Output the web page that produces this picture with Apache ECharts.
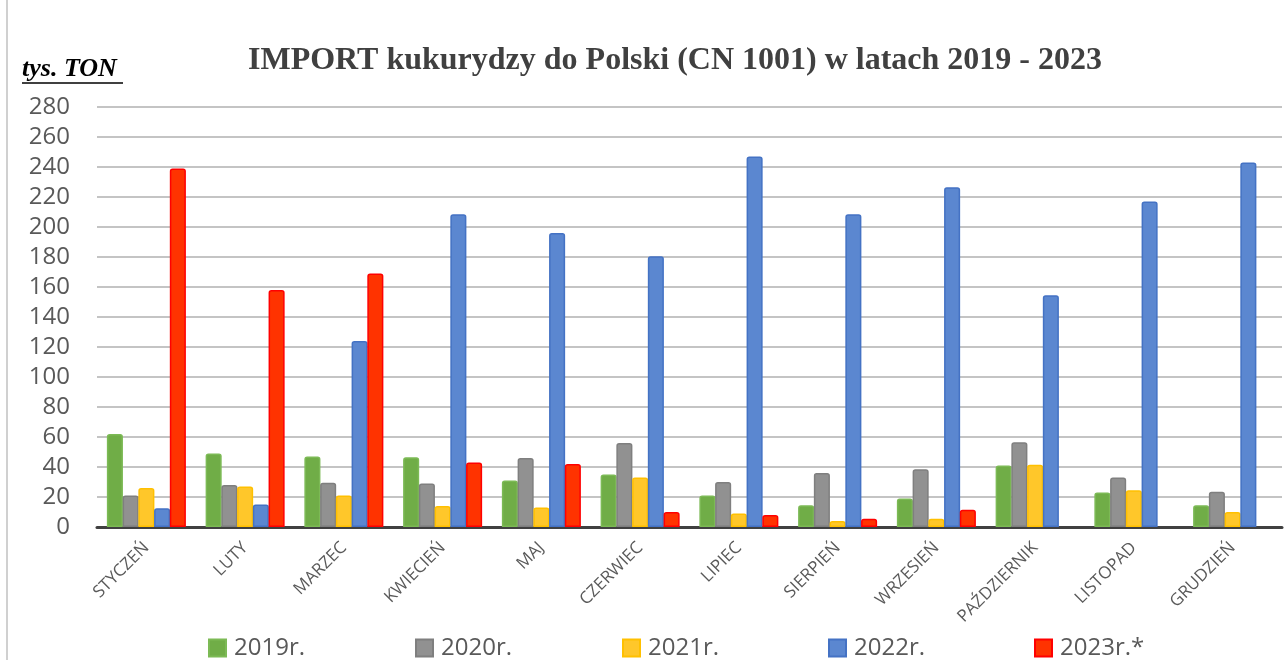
<!DOCTYPE html>
<html>
<head>
<meta charset="utf-8">
<script src="https://cdn.jsdelivr.net/npm/echarts@6/dist/echarts.min.js"></script>
<style>
html,body{margin:0;padding:0;background:#fff;}
#wrap{position:absolute;left:0;top:0;width:1285px;height:660px;}
#frame{position:absolute;left:6px;top:0;width:1279px;height:660px;border-left:2px solid #d0d0d0;box-sizing:border-box;}
#chart{position:absolute;left:0;top:0;width:1285px;height:660px;}
</style>
</head>
<body>
<div id="wrap"><div id="frame"></div><div id="chart"></div></div>
<script>
const categories = ['STYCZEŃ','LUTY','MARZEC','KWIECIEŃ','MAJ','CZERWIEC','LIPIEC','SIERPIEŃ','WRZESIEŃ','PAŹDZIERNIK','LISTOPAD','GRUDZIEŃ'];
const seriesNames = ['2019r.','2020r.','2021r.','2022r.','2023r.*'];
const v2019 = [62, 49, 47, 46.5, 31, 35, 21, 14.5, 19, 41, 23, 14.5];
const v2020 = [21, 28, 29.5, 29, 46, 56, 30, 36, 38.5, 56.5, 33, 23.5];
const v2021 = [26, 27, 21, 14, 13, 33, 9, 4, 5.5, 41.5, 24.5, 10];
const v2022 = [12.5, 15, 124, 208.5, 196, 180.5, 247, 208.5, 226.5, 154.5, 217, 243];
const v2023 = [239, 158, 169, 43, 42, 10, 8, 5.5, 11.5, null, null, null];
const yTicks = {min: 0, max: 280, interval: 20};

const fills = ['#70ad47','#919191','#ffc72a','#5b87d0','#ff3300'];
const borders = ['#7cba55','#7f7f7f','#ffc000','#4472c4','#ff0000'];
const values = [v2019, v2020, v2021, v2022, v2023];
const legendLeft = [208, 415, 622, 828, 1034];

const chart = echarts.init(document.getElementById('chart'), null, {renderer:'canvas'});
const option = {
  animation: false,
  title: {
    text: 'IMPORT kukurydzy do Polski (CN 1001) w latach 2019 - 2023',
    left: 670, top: 40, textAlign: 'center',
    textStyle: {fontFamily: '"Liberation Serif","Times New Roman",serif', fontWeight: 'bold', fontSize: 32, color: '#404040'}
  },
  graphic: [
    {type:'text', left: 22, top: 56, style:{text:'tys. TON', font:'italic bold 26px "Liberation Serif", serif', fill:'#000'}},
    {type:'line', shape:{x1:22, y1:83, x2:123, y2:83}, style:{stroke:'#000', lineWidth:1.5}}
  ],
  legend: seriesNames.map((n,i)=>({
    data:[n], left: legendLeft[i], top: 636, orient:'horizontal', padding: 0,
    itemWidth: 17, itemHeight: 17, itemGap: 4, icon: 'rect',
    selectedMode: false,
    textStyle: {fontFamily:'"Open Sans",sans-serif', fontSize: 24, color:'#595959', padding:[0,0,0,3]}
  })),
  grid: {left: 97, right: 3, top: 107, bottom: 133, containLabel: false},
  xAxis: {
    type: 'category', data: categories,
    axisLine: {lineStyle:{color:'#404040', width:3}},
    axisTick: {show:false},
    axisLabel: {rotate: 45, interval: 0, margin: 18, fontFamily:'"Open Sans",sans-serif', fontSize: 17, color:'#595959'}
  },
  yAxis: {
    type: 'value', min: yTicks.min, max: yTicks.max, interval: yTicks.interval,
    axisLine: {show:false}, axisTick: {show:false},
    splitLine: {lineStyle:{color:'#c4c4c4', width:2}},
    axisLabel: {margin: 27, fontFamily:'"Open Sans",sans-serif', fontSize: 24, color:'#595959'}
  },
  series: seriesNames.map((n,i)=>({
    name: n, type: 'bar', data: values[i],
    barGap: '-2%', barCategoryGap: '20%',
    itemStyle: {color: fills[i], borderColor: borders[i], borderWidth: 1.5, borderRadius: [2,2,0,0]}
  }))
};
chart.setOption(option);
</script>
</body>
</html>
